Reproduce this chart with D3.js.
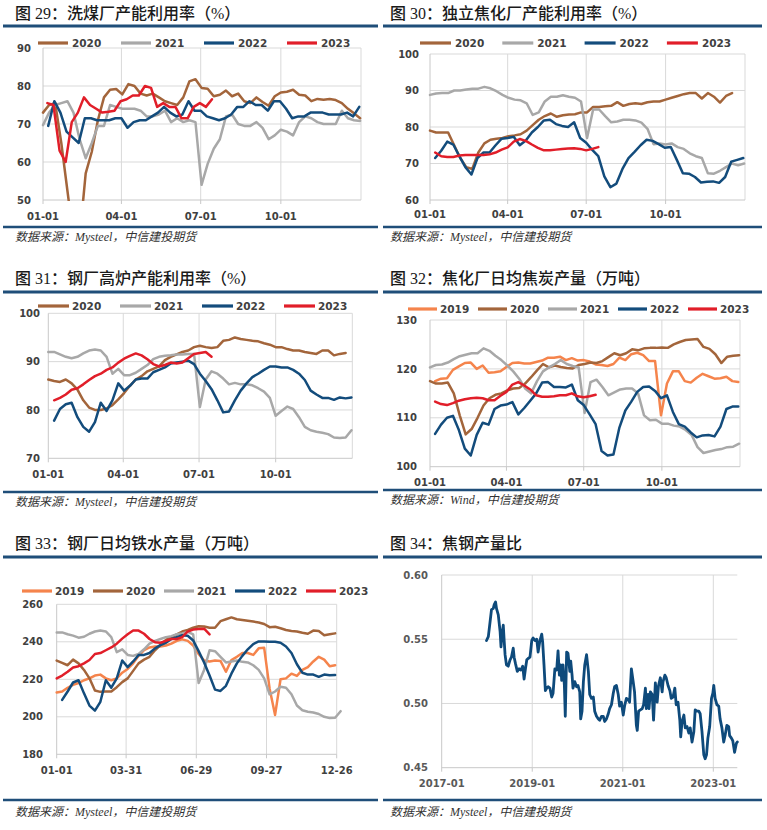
<!DOCTYPE html>
<html><head><meta charset="utf-8">
<script src="https://cdn.jsdelivr.net/npm/d3@7"></script>
<style>body{margin:0;background:#fff}svg{display:block}</style>
</head><body>
<svg id="c" width="767" height="830"></svg>
<script>
// ---------------- DATA ----------------
// weekly series: first point's day-of-year, then weekly values
const p1Years = ["2020","2021","2022","2023"];
const p1Start = [0, 0, 6, 5];
const p1_2020 = [73,75,75.5,65,52.5,40,40,57,62.7,71,77,79,79.2,77.8,80.5,80,78,77.5,78,77,76,75.5,75,77,81.2,81.8,79.5,79.3,77.3,77.7,78.8,77.3,78,76,75.5,77,75.8,74.8,77.3,78.3,78.5,79,77.7,77.5,76,76.6,76.4,76.6,76.3,75.5,74,72.8,71.5];
const p1_2021 = [69.7,73,75,75.5,76,73,66,61,65,69.5,69.5,75,74.5,74,74,74,73.5,72,72,72.5,73.5,70.5,71.5,70.5,71,70.5,54,59.5,63.5,66,72,72.5,70,69.5,69.5,70.5,69,66,67,68.5,68,67,70.5,72,71.5,70.5,70,70,70,73.5,71.5,71,70.8];
const p1_2022 = [69.5,76,73,68,66.5,65,71.5,71.5,71,71,71,71.5,71.5,69,70.5,71,71,72,73,74.5,73,72,72.5,76,73.5,73.5,72,71.5,71,71.5,72.5,74.5,74.5,76,75,75,73.5,76,76,74,71.5,72,72,73,73,73,72.5,72.5,72.5,73,72,74.5];
const p1_2023 = [75.5,75,63,60,70.5,73,77,75,74,73,73.2,73.5,76,76.5,77.5,77.5,80,79.5,74.5,75.5,74.5,74.5,71.5,71.5,74.5,75.5,74.5,76.5];
const p1Ticks = [50,60,70,80,90];

const p2Years = ["2020","2021","2022","2023"];
const p2Start = [0, 0, 6, 6];
const p2_2020 = [79,78.5,78.5,78.5,75,71.5,69,68.5,73,75.5,76.5,76.8,77,77.5,77.7,78,79,80.5,82,83,83.7,82.8,83.2,83.4,83.5,84,84,85.5,85.5,85.7,85.8,86.8,85.8,86.3,86.5,86.3,86.8,87,87,87.5,88,88.5,89,89.3,89.3,87.8,89.3,88.3,86.7,88.5,89.3];
const p2_2021 = [88.8,89.2,89.3,89.3,90,90,90.3,90.5,90.5,91,90.6,89.8,88.8,88,87.5,87.3,86.5,83.3,84,87,88.3,88.3,88.7,88.3,88,87,77,84.8,84.8,83,81.3,81.5,82,82,81.8,81.2,79.5,75.3,75.5,75.2,75.5,74.5,74,72.8,72,71.5,67.3,67.2,68,69,70,69.5,70];
const p2_2022 = [71.5,73.5,76,75.2,72,69,67,71.5,73,73,75,76.8,77,77.3,75,76.3,78.5,80,81.8,82,80.8,80.3,80,81.3,77,75.7,73.7,72,66.5,63.5,64.5,68.5,71.5,73.2,75,76.5,76.2,75.3,74.3,74.5,71,67.3,67.2,66.3,64.8,65,65.1,64.7,66.3,70.5,71,71.5];
const p2_2023 = [73,72,71.8,71.8,72.2,72.3,72.3,72.3,72.3,72.5,73,73.8,74.4,76,76.7,76.2,75.2,74.3,73.6,73.6,73.8,74,74.1,74.2,74,73.6,74,74.5];
const p2Ticks = [60,70,80,90,100];

const p3Years = ["2020","2021","2022","2023"];
const p3Start = [0, 0, 7, 7];
const p3_2020 = [86.3,86,85.8,86.3,85.5,84.2,82,80.5,80,80,80.3,81,82.2,83.5,85,86.3,87,88,88.5,89,90.3,91,91.5,92,92.3,93,93.3,93,92.8,93,94.3,94.5,95,94.7,94.5,94.3,94.2,93.8,93.5,93,93,92.6,92.3,92.3,92,91.8,91.6,92.3,92.3,91.3,91.6,91.8];
const p3_2021 = [92,92,91.5,91,90.7,91,91.7,92.3,92.5,92.3,91,87.5,88.5,87.2,87.2,87.7,88.5,89.3,90.5,91,91.2,91.3,91.5,91.5,91.6,91.6,80.6,86.3,88,87.5,86.5,85.3,85.6,85.3,85.3,85.1,84.5,83.8,82.5,78.8,79.8,80.7,80.2,78.5,76.5,75.8,75.5,75.3,75,74.3,74.2,74.3,75.8];
const p3_2022 = [77.8,80.2,81.2,81.5,78.5,76.5,75.5,77.5,81.5,79.8,82,85.5,84,85,86.3,86.5,86.5,87.8,88.3,88.8,89.6,89.8,90,90.2,89.5,87.5,86,84.3,82,79.5,79.7,82,84,85.5,86.8,87.5,88.3,89,89,88.8,88.8,88.3,87.5,86.2,84,83.2,82.5,82.5,82.1,82.6,82.4,82.6];
const p3_2023 = [82,82.5,83.2,84.2,84.5,85.3,86.2,87,87.5,88.3,88.8,89.8,90.6,91.2,91.7,91.3,90.5,89.5,89,89.3,89.8,89.6,89.8,90.7,91.6,91.8,92,91];
const p3Ticks = [70,80,90,100];

const p4Years = ["2019","2020","2021","2022","2023"];
const p4Start = [6, 0, 0, 6, 6];
const p4_2019 = [117.5,118,118.1,119.8,120.5,121.2,121.3,120,120.7,119.2,119.3,119.5,120.4,121.2,121.3,121.1,121.1,121.4,121.7,122.3,122.3,122.5,121.8,122.2,121.7,121.8,121.5,120.9,120.8,120.6,121,122.3,121.8,123,123.3,122.8,121.6,121.6,110.5,117,119.5,119.5,117.5,117.2,118.2,119,118.5,118,118.1,118.4,117.5,117.3];
const p4_2020 = [117.5,117,117,117.2,115,110.5,106.6,107.7,110,112.5,114,114.7,115,115.6,116,116.1,117,118.3,119.7,121,120.3,120.7,120.4,120.2,120.1,120.8,121,121.3,121.2,121.6,122.4,123.2,122.8,123.2,124,123.8,124.2,124.3,124.3,124.4,124.3,125,125.5,125.9,126,126.1,124.5,124.1,123,121.2,122.5,122.7,122.8];
const p4_2021 = [120.3,120.8,120.9,121.3,122,122.6,122.9,123.2,123.2,124.2,123.7,122.7,121.8,120.7,119.5,118,116,115,117.5,119.5,120.3,121,121.8,121,120.6,120.3,111,117.3,117.8,116.3,114.6,115.2,115.8,116,116,115,110.5,109.5,109.6,108.8,108.8,108.4,108.2,107.5,106.5,104,102.8,103.1,103.4,103.6,104,104.1,104.7];
const p4_2022 = [106.7,108.6,110,110.4,107.5,103.7,102.3,106.5,109,108.6,111.8,112.5,112.7,113.2,110.7,112,113.5,115,117.2,117.3,116.3,116.3,116.2,116.8,113.6,112.6,110.7,108.7,103.2,102.3,102.5,108,111.5,113.3,115.3,116.3,116.4,115.5,114,114.6,111.2,108.7,108.2,107,106,106.4,106.5,106.2,108.2,111.8,112.3,112.3];
const p4_2023 = [113.3,112.8,112.6,113,113.5,113.8,114,114.1,114,113.6,113.6,114.5,115.3,116.8,117.3,116.6,115.8,114.6,114.3,114.3,114.4,114.6,114.6,115,114.4,114.2,114.4,114.7];
const p4Ticks = [100,110,120,130];

const p5Years = ["2019","2020","2021","2022","2023"];
const p5Start = [0, 0, 0, 7, 0];
const p5_2019 = [213,213.5,215.5,217,218,219.5,220.5,222,222.5,220.5,219.5,220.5,223.5,225.5,228.5,232.5,235.5,237,237.5,237.5,238,239,240.5,241.3,240.5,238,233.5,230,229.5,230,229.8,224,230.3,232,234,234,233,236.5,236.8,215,201,220,220.5,223,221.8,225,226.5,229.5,232,230.5,227,227.5];
const p5_2020 = [230,228.8,227.5,230.5,228.5,225,220.5,214,213.3,213.5,213.5,215.8,218.5,220.5,224.5,228.5,230.5,232,235.5,238.3,241,242.5,244,245.5,246.3,247.5,248.3,248.2,247.5,247.5,251,252,253,252,251.6,251.2,250.8,250.3,249.5,247.8,248,247.2,246.3,245.8,245.5,244.8,244.3,246,245.7,243.5,244,244.5];
const p5_2021 = [245,245,244,243.3,242.2,242.7,244.3,245.5,246,245.5,242.5,234.5,236,233,232.5,233.5,236,239,240.5,241.5,242.5,243,244,244.5,245.3,244,218,225,235.5,235,232,229,229.5,230,229.3,229,227.5,225,220.5,212,213.5,216,215.5,212,206,203.5,202.7,202.3,201.5,200,199.3,199.5,203];
const p5_2022 = [209,213.5,218.3,219.5,212.5,206,203.3,208,219.5,215.5,220.5,230,226.5,229.5,233,233,234,236.5,238.2,239.5,241.5,242.5,243.5,243.2,240.7,235,229,222,214.5,213.8,216.5,223,228.5,232.5,236,238.8,240.2,240.2,240,240,239.5,237.5,234,228,223.5,222.5,222.5,221.3,222.5,222.2,222.3];
const p5_2023 = [220.5,222,224,226.3,227,228.5,230.3,233.5,234,235.5,237,239,241.7,244,246,246,244.3,241.5,239.8,239.5,240.5,241.5,241.5,242.5,245.5,246.5,246.8,247,244];
const p5Ticks = [180,200,220,240,260];

const p6Dates = [2017.99,2018.03,2018.07,2018.10,2018.14,2018.16,2018.19,2018.21,2018.25,2018.29,2018.31,2018.33,2018.36,2018.38,2018.40,2018.43,2018.47,2018.51,2018.54,2018.58,2018.60,2018.63,2018.67,2018.71,2018.75,2018.79,2018.82,2018.85,2018.88,2018.91,2018.95,2018.99,2019.02,2019.06,2019.10,2019.13,2019.17,2019.21,2019.23,2019.26,2019.29,2019.32,2019.35,2019.39,2019.43,2019.46,2019.50,2019.54,2019.57,2019.60,2019.63,2019.65,2019.68,2019.71,2019.73,2019.76,2019.79,2019.83,2019.85,2019.88,2019.90,2019.94,2019.98,2020.01,2020.05,2020.07,2020.10,2020.13,2020.16,2020.20,2020.24,2020.27,2020.31,2020.35,2020.38,2020.42,2020.46,2020.49,2020.53,2020.57,2020.60,2020.64,2020.68,2020.71,2020.75,2020.79,2020.82,2020.86,2020.90,2020.93,2020.97,2021.01,2021.04,2021.08,2021.12,2021.15,2021.19,2021.23,2021.26,2021.30,2021.32,2021.35,2021.39,2021.43,2021.46,2021.50,2021.52,2021.56,2021.58,2021.61,2021.65,2021.68,2021.72,2021.76,2021.79,2021.83,2021.87,2021.89,2021.93,2021.96,2022.00,2022.04,2022.07,2022.11,2022.15,2022.18,2022.22,2022.26,2022.28,2022.31,2022.35,2022.38,2022.42,2022.46,2022.49,2022.53,2022.57,2022.60,2022.64,2022.68,2022.71,2022.75,2022.79,2022.82,2022.85,2022.88,2022.92,2022.96,2022.99,2023.01,2023.04,2023.08,2023.12,2023.15,2023.19,2023.23,2023.26,2023.30,2023.34,2023.36,2023.40,2023.43,2023.47,2023.51,2023.53];
const p6Values = [.549,.552,.564,.573,.574,.577,.579,.574,.569,.556,.544,.553,.561,.549,.538,.530,.529,.534,.536,.543,.536,.531,.525,.527,.526,.529,.519,.527,.534,.535,.536,.549,.551,.549,.550,.540,.549,.554,.548,.530,.510,.512,.513,.512,.505,.508,.527,.526,.541,.522,.530,.518,.530,.514,.490,.540,.539,.525,.533,.522,.512,.517,.513,.514,.509,.488,.494,.517,.530,.538,.525,.507,.504,.505,.494,.490,.488,.487,.490,.490,.486,.488,.492,.496,.499,.508,.513,.514,.507,.498,.501,.491,.498,.504,.503,.501,.527,.517,.509,.483,.479,.494,.495,.496,.499,.512,.496,.507,.496,.509,.507,.487,.516,.501,.514,.520,.509,.517,.522,.520,.514,.510,.504,.505,.512,.499,.501,.487,.474,.486,.491,.481,.482,.477,.481,.470,.478,.495,.494,.494,.492,.478,.460,.457,.460,.473,.482,.504,.508,.514,.504,.499,.498,.488,.481,.470,.475,.483,.482,.475,.473,.471,.462,.469,.470];
const p6Ticks = [0.45,0.50,0.55,0.60];
const p6XTicks = [2017,2019,2021,2023];
const p6XLabels = ["2017-01","2019-01","2021-01","2023-01"];

const xTicksA = [0,90,181,273];
const xLabelsA = ["01-01","04-01","07-01","10-01"];
const xTicksB = [0,89,179,269,359];
const xLabelsB = ["01-01","03-31","06-29","09-27","12-26"];

const titles = ["图 29：洗煤厂产能利用率（%）","图 30：独立焦化厂产能利用率（%）","图 31：钢厂高炉产能利用率（%）","图 32：焦化厂日均焦炭产量（万吨）","图 33：钢厂日均铁水产量（万吨）","图 34：焦钢产量比"];
const sources = ["数据来源：Mysteel，中信建投期货","数据来源：Mysteel，中信建投期货","数据来源：Mysteel，中信建投期货","数据来源：Wind，中信建投期货","数据来源：Mysteel，中信建投期货","数据来源：Mysteel，中信建投期货"];

// ---------------- STYLE ----------------
const COL = {"2019":"#F5844C","2020":"#A3653B","2021":"#A8A8A8","2022":"#134C7C","2023":"#E11E29"};
const NAVY = "#1F4E79";
const AXF = "'DejaVu Sans', Verdana, sans-serif";
const TF = "'Liberation Serif','Noto Sans CJK SC',serif";
const svg = d3.select("#c");

function frame(o){
  svg.append("text").attr("x",o.tx).attr("y",o.ty).text(o.title)
    .attr("font-family",TF).attr("font-size",16).attr("font-weight",500).attr("fill","#1a1a1a");
  svg.append("line").attr("x1",o.lx1).attr("x2",o.lx2).attr("y1",o.topLine).attr("y2",o.topLine)
    .attr("stroke",NAVY).attr("stroke-width",3);
  svg.append("line").attr("x1",o.lx1).attr("x2",o.lx2).attr("y1",o.botLine).attr("y2",o.botLine)
    .attr("stroke",NAVY).attr("stroke-width",2.5);
  svg.append("text").attr("x",o.tx).attr("y",o.sy).text(o.source)
    .attr("font-family",TF).attr("font-size",12).attr("font-style","italic").attr("fill","#333");
}

function panel(o){
  frame(o);
  const g = svg.append("g");
  const x = d3.scaleLinear().domain(o.xDomain).range(o.xRange);
  const y = d3.scaleLinear().domain([o.yTicks[0], o.yTicks[o.yTicks.length-1]]).range(o.yRange);
  const [x0,x1] = o.xRange, yB = o.yRange[0], yT = o.yRange[1];
  // horizontal grid
  g.selectAll(null).data(o.yTicks.slice(1)).join("line")
    .attr("x1",x0).attr("x2",x1).attr("y1",d=>y(d)).attr("y2",d=>y(d))
    .attr("stroke","#D9D9D9").attr("stroke-width",1);
  // vertical grid
  const vg = o.xTicks.slice(1).concat(o.rightLine ? [o.xDomain[1]] : []);
  g.selectAll(null).data(vg).join("line")
    .attr("x1",d=>x(d)).attr("x2",d=>x(d)).attr("y1",yT).attr("y2",yB)
    .attr("stroke","#D9D9D9").attr("stroke-width",1);
  // axes
  g.append("line").attr("x1",x0).attr("x2",x0).attr("y1",yT).attr("y2",yB+4).attr("stroke","#C8C8C8");
  g.append("line").attr("x1",x0).attr("x2",x1).attr("y1",yB).attr("y2",yB).attr("stroke","#C8C8C8");
  g.selectAll(null).data(o.xTicks.slice(1)).join("line")
    .attr("x1",d=>x(d)).attr("x2",d=>x(d)).attr("y1",yB).attr("y2",yB+4).attr("stroke","#C8C8C8");
  // labels
  g.selectAll(null).data(o.yTicks).join("text")
    .attr("x",o.ylx).attr("y",d=>y(d)).attr("dy","0.36em").attr("text-anchor","end")
    .text(d=>o.yFmt ? o.yFmt(d) : d)
    .attr("font-family",AXF).attr("font-weight","bold").attr("font-size",10).attr("fill",o.labCol||"#404040");
  g.selectAll(null).data(o.xTicks).join("text")
    .attr("x",d=>x(d)).attr("y",o.xly).attr("text-anchor","middle")
    .text((d,i)=>o.xLabels[i])
    .attr("font-family",AXF).attr("font-weight","bold").attr("font-size",10).attr("fill",o.labCol||"#404040");
  // clip
  const cid = "clip"+o.id;
  svg.append("clipPath").attr("id",cid).append("rect")
    .attr("x",x0-4).attr("y",yT-6).attr("width",x1-x0+14).attr("height",yB-yT+6+(o.clipBottom?1:4));
  const lg = g.append("g").attr("clip-path",`url(#${cid})`);
  const line = d3.line().x(d=>x(d[0])).y(d=>y(d[1])).curve(d3.curveLinear);
  o.series.forEach(s=>{
    lg.append("path").datum(s.pts).attr("d",line).attr("fill","none")
      .attr("stroke",s.color).attr("stroke-width",o.sw||2.5)
      .attr("stroke-linejoin","round").attr("stroke-linecap","round");
  });
  // legend
  if(o.legend){
    const L = o.legend;
    o.series.forEach((s,i)=>{
      const lx = L.x + i*L.step;
      g.append("line").attr("x1",lx).attr("x2",lx+L.len).attr("y1",L.y).attr("y2",L.y)
        .attr("stroke",s.color).attr("stroke-width",3.2);
      g.append("text").attr("x",lx+L.tOff).attr("y",L.y).attr("dy","0.36em").text(s.name)
        .attr("font-family",AXF).attr("font-weight","bold").attr("font-size",10.5).attr("fill","#404040");
    });
  }
}

function weekly(names, starts, arrs){
  return names.map((n,i)=>({name:n, color:COL[n], pts:arrs[i].map((v,j)=>[starts[i]+7*j, v])}));
}

panel({id:1, title:titles[0], source:sources[0], tx:15, ty:19, lx1:3, lx2:378, topLine:26, botLine:227, sy:241,
  xDomain:[0,365], xRange:[43,361], yTicks:p1Ticks, yRange:[200,48], ylx:31, xly:220,
  xTicks:xTicksA, xLabels:xLabelsA, rightLine:true, clipBottom:true,
  series:weekly(p1Years,p1Start,[p1_2020,p1_2021,p1_2022,p1_2023]),
  legend:{x:38, step:83, len:30, tOff:34, y:43}});

panel({id:2, title:titles[1], source:sources[1], tx:390, ty:19, lx1:383, lx2:762, topLine:26, botLine:227, sy:241,
  xDomain:[0,365], xRange:[430,745], yTicks:p2Ticks, yRange:[200,54], ylx:419, xly:218,
  xTicks:xTicksA, xLabels:xLabelsA, rightLine:true,
  series:weekly(p2Years,p2Start,[p2_2020,p2_2021,p2_2022,p2_2023]),
  legend:{x:420, step:82.3, len:31, tOff:35, y:43}});

panel({id:3, title:titles[2], source:sources[2], tx:15, ty:284, lx1:3, lx2:378, topLine:292, botLine:492, sy:506,
  xDomain:[0,365], xRange:[48.3,352.3], yTicks:p3Ticks, yRange:[458.3,313.3], ylx:40, xly:478,
  xTicks:xTicksA, xLabels:xLabelsA, rightLine:true,
  series:weekly(p3Years,p3Start,[p3_2020,p3_2021,p3_2022,p3_2023]),
  legend:{x:38, step:82, len:31, tOff:34, y:306}});

panel({id:4, title:titles[3], source:sources[3], tx:390, ty:284, lx1:383, lx2:762, topLine:292, botLine:490, sy:504,
  xDomain:[0,365], xRange:[430,740], yTicks:p4Ticks, yRange:[466.7,320], ylx:417, xly:486,
  xTicks:xTicksA, xLabels:xLabelsA, rightLine:true,
  series:weekly(p4Years,p4Start,[p4_2019,p4_2020,p4_2021,p4_2022,p4_2023]),
  legend:{x:408, step:70, len:29, tOff:32, y:309}});

panel({id:5, title:titles[4], source:sources[4], tx:15, ty:549, lx1:3, lx2:378, topLine:557, botLine:800, sy:816,
  xDomain:[0,359], xRange:[56.7,336.7], yTicks:p5Ticks, yRange:[754.3,604.3], ylx:43, xly:774,
  xTicks:xTicksB, xLabels:xLabelsB, rightLine:false,
  series:weekly(p5Years,p5Start,[p5_2019,p5_2020,p5_2021,p5_2022,p5_2023]),
  legend:{x:22, step:71, len:30, tOff:33, y:591}});

panel({id:6, title:titles[5], source:sources[5], tx:390, ty:549, lx1:383, lx2:762, topLine:557, botLine:800, sy:816,
  xDomain:[2017,2023.53], xRange:[441.7,737.3], yTicks:p6Ticks, yRange:[767.7,575], ylx:428, xly:787,
  xTicks:p6XTicks, xLabels:p6XLabels, rightLine:false, labCol:"#595959", sw:2.8,
  yFmt:d3.format(".2f"),
  series:[{name:"焦钢产量比", color:"#0E4A7B", pts:p6Dates.map((d,i)=>[d,p6Values[i]])}]});
</script>
</body></html>
